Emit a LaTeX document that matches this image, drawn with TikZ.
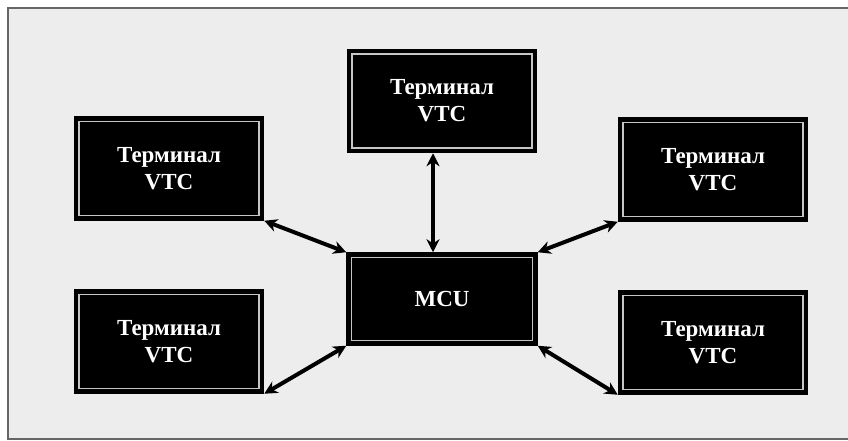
\documentclass[tikz,border=0pt]{standalone}
\usepackage{fontspec}
\setmainfont{Liberation Serif}
\usetikzlibrary{arrows.meta,calc}

\tikzset{
  unitbox/.style={
    rectangle, fill=black, draw=black, line width=1.5pt,
    inner sep=0pt, text=white, align=center,
    font=\fontsize{23}{27}\selectfont\bfseries,
    path picture={
      \draw[gray!45, line width=1.2pt]
        ([shift={(4.5pt,-4.5pt)}]path picture bounding box.north west)
        rectangle
        ([shift={(-4.5pt,4.5pt)}]path picture bounding box.south east);
    }
  },
  terminal/.style={unitbox, minimum width=189pt, minimum height=103pt},
  hub/.style={unitbox, minimum width=190pt, minimum height=92pt},
  link/.style={line width=4pt, black,
    {Stealth[length=13pt,width=13pt]}-{Stealth[length=13pt,width=13pt]}}
}

\begin{document}
\begin{tikzpicture}[x=1pt,y=-1pt]
  % page and panel
  \useasboundingbox (0,0) rectangle (848,441);
  \fill[white] (0,0) rectangle (848,441);
  \filldraw[fill=black!7, draw=black!60, line width=2pt] (8,8) rectangle (856,439);

  % units
  \node[terminal] (top) at (442,101)   {Терминал\\VTC};
  \node[terminal] (tl)  at (169,168.5) {Терминал\\VTC};
  \node[terminal] (tr)  at (713,169.5) {Терминал\\VTC};
  \node[terminal] (bl)  at (169,341.5) {Терминал\\VTC};
  \node[terminal] (br)  at (713,342.5) {Терминал\\VTC};
  \node[hub]      (mcu) at (442,299)   {MCU};

  % links to the MCU
  \draw[link] ($(top.south)+(-9pt,0)$) -- ($(mcu.north)+(-9pt,0)$);
  \draw[link] (tl.south east) -- (mcu.north west);
  \draw[link] (bl.south east) -- (mcu.south west);
  \draw[link] (tr.south west) -- (mcu.north east);
  \draw[link] (br.south west) -- (mcu.south east);
\end{tikzpicture}
\end{document}
